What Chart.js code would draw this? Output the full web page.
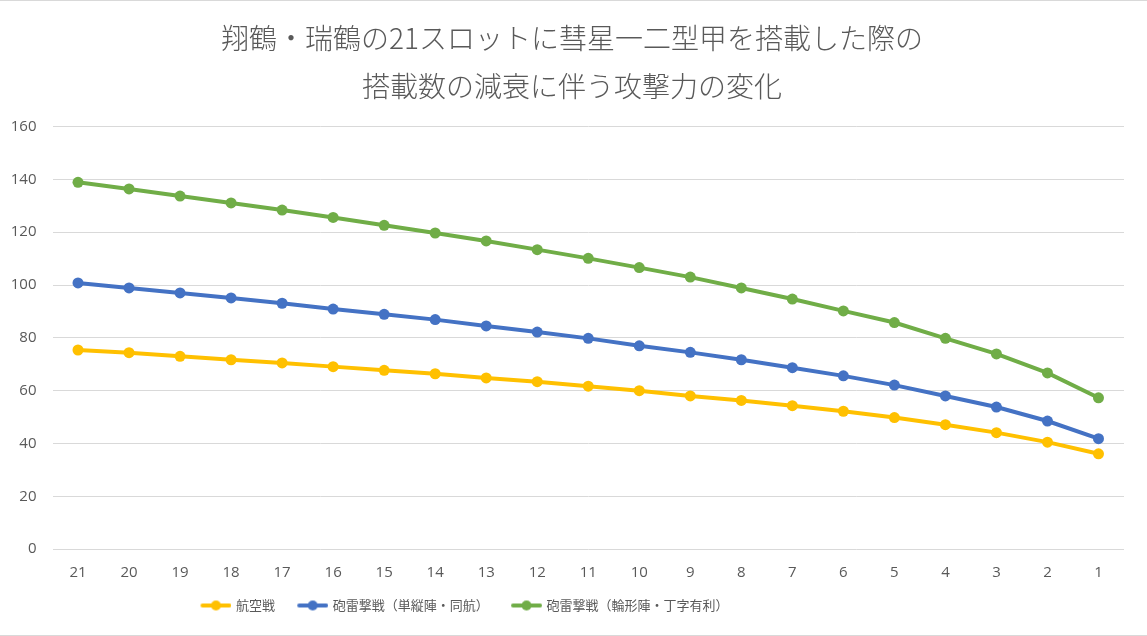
<!DOCTYPE html>
<html>
<head>
<meta charset="utf-8">
<script src="https://cdn.jsdelivr.net/npm/chart.js@4/dist/chart.umd.min.js"></script>
<style>
html,body{margin:0;padding:0;background:#fff;}
#wrap{width:1147px;height:634px;border-top:1px solid #d9d9d9;border-bottom:1px solid #d9d9d9;position:relative;}
</style>
</head>
<body>
<div id="wrap"><canvas id="c" width="1147" height="634"></canvas></div>
<script>
const titleLines = ['翔鶴・瑞鶴の21スロットに彗星一二型甲を搭載した際の', '搭載数の減衰に伴う攻撃力の変化'];
const categories = ['21','20','19','18','17','16','15','14','13','12','11','10','9','8','7','6','5','4','3','2','1'];
const seriesNames = ['航空戦', '砲雷撃戦（単縦陣・同航）', '砲雷撃戦（輪形陣・丁字有利）'];
const airStrike = [75.4,74.4,73.0,71.7,70.5,69.1,67.7,66.4,64.8,63.4,61.7,60.0,58.0,56.3,54.3,52.2,49.8,47.1,44.1,40.5,36.1];
const shellingLineAhead = [100.8,98.9,97.0,95.1,93.1,90.9,88.9,86.9,84.5,82.2,79.8,77.0,74.5,71.7,68.7,65.6,62.1,58.0,53.8,48.5,41.8];
const shellingRingT = [138.9,136.4,133.7,131.1,128.4,125.6,122.6,119.7,116.7,113.4,110.1,106.6,103.0,98.9,94.7,90.2,85.8,79.8,73.9,66.7,57.3];
const colors = ['#FFC000', '#4472C4', '#70AD47'];
const yTicks = [0,20,40,60,80,100,120,140,160];

function legendIcon(color){
  const cv = document.createElement('canvas');
  cv.width = 52; cv.height = 12;
  const g = cv.getContext('2d');
  g.strokeStyle = color; g.lineWidth = 4; g.lineCap = 'round';
  g.beginPath(); g.moveTo(23,6); g.lineTo(50,6); g.stroke();
  g.fillStyle = color;
  g.beginPath(); g.arc(36.5,6,5,0,Math.PI*2); g.fill();
  return cv;
}

const seriesData = [airStrike, shellingLineAhead, shellingRingT];
const datasets = seriesData.map((d,i)=>({
  label: seriesNames[i],
  data: d,
  borderColor: colors[i],
  backgroundColor: colors[i],
  pointBackgroundColor: colors[i],
  pointBorderColor: colors[i],
  borderWidth: 4,
  pointRadius: 5.5,
  pointBorderWidth: 0,
  tension: 0
}));

const shiftBoxes = {
  id: 'shiftBoxes',
  afterLayout(chart){
    const lg = chart.legend;
    if (lg) { lg.left -= 107; lg.right -= 107; }
    const tb = chart.titleBlock;
    if (tb) { tb.left += 10; tb.right += 10; }
  }
};

const JP = "'Noto Sans CJK JP', 'Noto Sans', sans-serif";
new Chart(document.getElementById('c'), {
  type: 'line',
  data: { labels: categories, datasets },
  plugins: [shiftBoxes],
  options: {
    responsive: false,
    animation: false,
    devicePixelRatio: 1,
    layout: { padding: { left: 0, right: 23, top: 0, bottom: 13 } },
    plugins: {
      title: {
        display: true,
        text: titleLines,
        color: '#595959',
        font: { family: JP, size: 28, weight: 300, lineHeight: 1.714 },
        padding: { top: 13, bottom: 16.6 }
      },
      legend: {
        position: 'bottom',
        labels: {
          color: '#595959',
          font: { family: JP, size: 13 },
          usePointStyle: true,
          pointStyleWidth: 48,
          padding: 3.3,
          generateLabels(chart){
            return chart.data.datasets.map((ds,i)=>({
              text: ds.label,
              fillStyle: ds.borderColor,
              strokeStyle: ds.borderColor,
              fontColor: '#595959',
              pointStyle: legendIcon(ds.borderColor),
              datasetIndex: i,
              hidden: false,
              lineWidth: 0
            }));
          }
        }
      },
      tooltip: { enabled: false }
    },
    scales: {
      x: {
        offset: true,
        grid: { display: false, drawTicks: false },
        border: { display: false },
        ticks: { color: '#595959', font: { family: "'Open Sans', sans-serif", size: 15 }, padding: 14.3, maxRotation: 0, autoSkip: false }
      },
      y: {
        min: 0, max: 160,
        afterBuildTicks(scale){ scale.ticks = yTicks.map(v=>({value:v})); },
        afterFit(scale){ scale.width = 52.5; },
        grid: { color: '#d9d9d9', lineWidth: 1, drawTicks: false },
        border: { display: false },
        ticks: { color: '#595959', font: { family: "'Open Sans', sans-serif", size: 15 }, padding: 16 }
      }
    }
  }
});
</script>
</body>
</html>
